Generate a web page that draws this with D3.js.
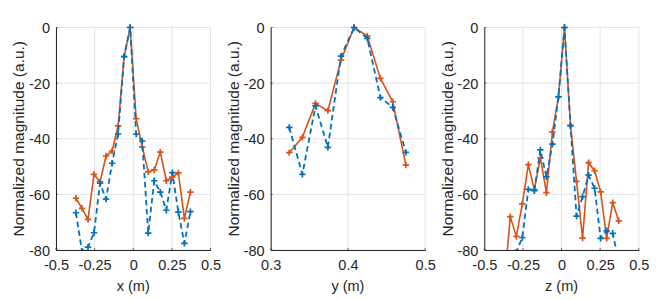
<!DOCTYPE html>
<html>
<head>
<meta charset="utf-8">
<script src="https://cdn.jsdelivr.net/npm/d3@7"></script>
<style>
  html, body { margin: 0; padding: 0; background: #fff; }
  svg { display: block; }
  text { font-family: "Liberation Sans", Arial, Helvetica, sans-serif; fill: #262626; }
</style>
</head>
<body>
<div id="chart"></div>
<script>
// ---------- data ----------
const xPositions = [-0.371, -0.332, -0.293, -0.254, -0.215, -0.176, -0.137, -0.098, -0.059, -0.02,
                    0.019, 0.058, 0.097, 0.136, 0.175, 0.214, 0.253, 0.292, 0.331, 0.37];
const xOrange = [-61.4, -65.0, -69.0, -52.8, -55.5, -46.2, -44.4, -35.4, -10.5, 0,
                 -32.8, -42.9, -51.9, -51.2, -44.8, -55.1, -53.8, -52.3, -68.6, -59.2];
const xBlue   = [-66.6, -80.4, -79.0, -73.8, -56.0, -61.7, -48.8, -38.3, -10.5, 0,
                 -38.3, -40.8, -73.9, -55.1, -59.2, -65.7, -52.2, -66.4, -77.6, -66.2];

const yPositions = [0.324, 0.341, 0.358, 0.374, 0.391, 0.408, 0.425, 0.442, 0.458, 0.475];
const yOrange = [-45.0, -39.5, -27.3, -29.9, -11.7, 0, -3.1, -18.3, -26.7, -49.5];
const yBlue   = [-35.9, -52.8, -28.2, -43.1, -10.3, 0, -3.9, -25.2, -28.7, -44.9];

const zPositions = xPositions;
const zOrange = [-93, -68.0, -75.1, -63.4, -49.3, -58.3, -46.9, -59.4, -37.5, -24.9,
                 0, -35.3, -55.3, -75.7, -48.6, -51.5, -59.1, -75.8, -63.0, -69.5];
const zBlue   = [-90, -86, -80.8, -75.5, -58.2, -58.7, -44.0, -53.7, -41.9, -24.9,
                 0, -35.3, -67.8, -60.8, -53.1, -57.8, -75.8, -73.1, -74.0, -84];

const xTicksXZ = [-0.5, -0.25, 0, 0.25, 0.5];
const xTicksY = [0.3, 0.4, 0.5];
const yTicks = [0, -20, -40, -60, -80];
const xLabels = ["x (m)", "y (m)", "z (m)"];
const yLabel = "Normalized magnitude (a.u.)";

// ---------- layout ----------
const W = 664, H = 300;
const plotTop = 27.5, plotBottom = 250;
const panelLeft = [56, 270.7, 484.3];
const panelW = 154.5;
const orange = "#D95319", blue = "#0072BD";

const panels = [
  { pos: xPositions, a: xOrange, b: xBlue, domain: [-0.5, 0.5], ticks: xTicksXZ, label: xLabels[0] },
  { pos: yPositions, a: yOrange, b: yBlue, domain: [0.3, 0.5], ticks: xTicksY, label: xLabels[1] },
  { pos: zPositions, a: zOrange, b: zBlue, domain: [-0.5, 0.5], ticks: xTicksXZ, label: xLabels[2] }
];

const svg = d3.select("#chart").append("svg").attr("width", W).attr("height", H);
const fs = "14.5px";

panels.forEach((p, i) => {
  const L = panelLeft[i];
  const x = d3.scaleLinear().domain(p.domain).range([L, L + panelW]);
  const y = d3.scaleLinear().domain([-80, 0]).range([plotBottom, plotTop]);
  const g = svg.append("g");

  // grid
  g.selectAll(".gx").data(p.ticks).enter().append("line")
    .attr("x1", d => x(d)).attr("x2", d => x(d)).attr("y1", plotTop).attr("y2", plotBottom)
    .attr("stroke", "#e4e4e4").attr("stroke-width", 1);
  g.selectAll(".gy").data(yTicks).enter().append("line")
    .attr("x1", L).attr("x2", L + panelW).attr("y1", d => y(d)).attr("y2", d => y(d))
    .attr("stroke", "#e4e4e4").attr("stroke-width", 1);

  // axes
  const xAxis = d3.axisBottom(x).tickValues(p.ticks).tickSize(0).tickPadding(10)
    .tickFormat(d => String(d));
  const yAxis = d3.axisLeft(y).tickValues(yTicks).tickSize(0).tickPadding(6)
    .tickFormat(d => String(d));
  const gx = g.append("g").attr("transform", `translate(0,${plotBottom})`).call(xAxis);
  const gy = g.append("g").attr("transform", `translate(${L},0)`).call(yAxis);
  [gx, gy].forEach(a => {
    a.select(".domain").attr("stroke", "#262626").attr("stroke-width", 1);
    a.selectAll("text").style("font-size", fs).attr("fill", "#262626");
  });
  gy.selectAll("text").attr("dy", "0.35em");
  gx.selectAll("text").attr("dy", "0.71em");
  // small inward ticks
  g.selectAll(".tx").data(p.ticks).enter().append("line")
    .attr("x1", d => x(d)).attr("x2", d => x(d)).attr("y1", plotBottom).attr("y2", plotBottom - 2)
    .attr("stroke", "#262626").attr("stroke-width", 0.7);
  g.selectAll(".ty").data(yTicks).enter().append("line")
    .attr("x1", L).attr("x2", L + 2).attr("y1", d => y(d)).attr("y2", d => y(d))
    .attr("stroke", "#262626").attr("stroke-width", 0.7);

  // labels
  g.append("text").attr("x", L + panelW / 2).attr("y", 291)
    .attr("text-anchor", "middle").style("font-size", fs).text(p.label);
  g.append("text")
    .attr("transform", `translate(${L - 37},${(plotTop + plotBottom) / 2}) rotate(-90)`)
    .attr("text-anchor", "middle").attr("dy", "0.35em").style("font-size", "15.5px").text(yLabel);

  // clip
  const cid = "clip" + i;
  svg.append("clipPath").attr("id", cid).append("rect")
    .attr("x", L - 6).attr("y", plotTop - 6).attr("width", panelW + 12).attr("height", plotBottom - plotTop + 6);

  const plot = g.append("g").attr("clip-path", `url(#${cid})`);
  const line = d3.line().x(d => x(d[0])).y(d => y(d[1]));
  const series = [
    { vals: p.a, color: orange, dash: null, w: 1.6 },
    { vals: p.b, color: blue, dash: "5.5,3.5", w: 1.8 }
  ];
  series.forEach(s => {
    const pts = p.pos.map((v, k) => [v, s.vals[k]]);
    plot.append("path").datum(pts).attr("d", line)
      .attr("fill", "none").attr("stroke", s.color).attr("stroke-width", s.w)
      .attr("stroke-dasharray", s.dash);
    const m = 3.2;
    plot.selectAll(null).data(pts.filter(d => d[1] >= -81)).enter().append("path")
      .attr("d", d => {
        const cx = x(d[0]), cy = y(d[1]);
        return `M${cx - m},${cy}H${cx + m}M${cx},${cy - m}V${cy + m}`;
      })
      .attr("stroke", s.color).attr("stroke-width", 1.7).attr("fill", "none");
  });
});
</script>
</body>
</html>
